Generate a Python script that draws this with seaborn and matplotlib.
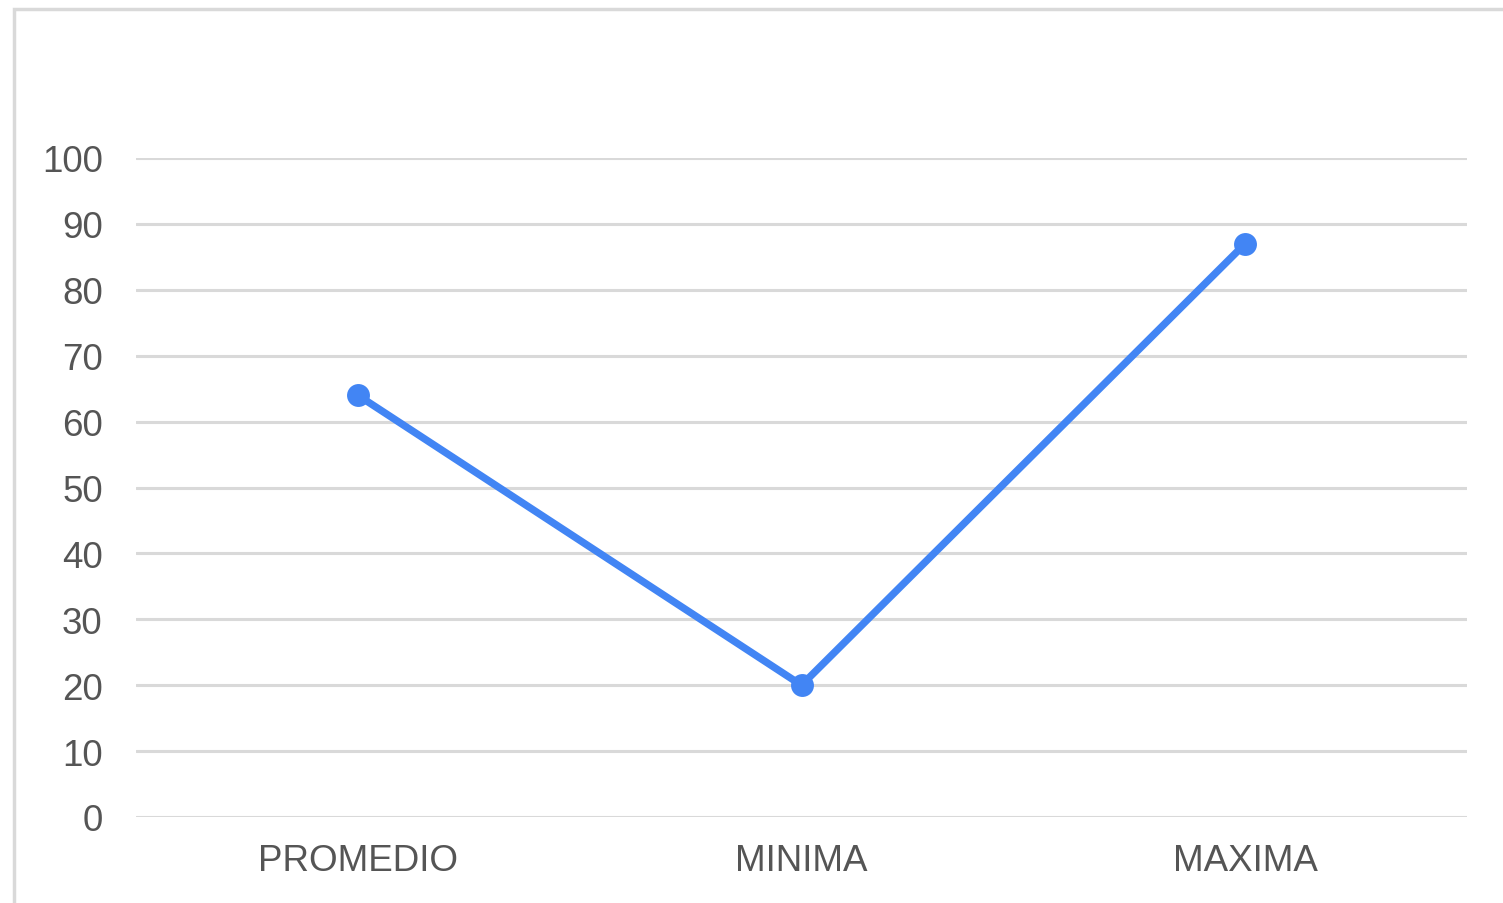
import matplotlib
matplotlib.use("Agg")
import matplotlib.pyplot as plt
import seaborn as sns
import pandas as pd
from matplotlib.patches import Rectangle

categories = ["PROMEDIO", "MINIMA", "MAXIMA"]
values = [64, 20, 87]
y_ticks = [0, 10, 20, 30, 40, 50, 60, 70, 80, 90, 100]

sns.set_theme(style="white")
plt.rcParams["font.family"] = ["Liberation Sans", "DejaVu Sans"]

df = pd.DataFrame({"categoria": categories, "valor": values})

fig = plt.figure(figsize=(15.03, 9.04), dpi=100)
fig.patch.set_facecolor("white")
ax = fig.add_axes([136 / 1503, (904 - 818) / 904, 1331 / 1503, 659 / 904])

# outer frame of the chart card
fig.patches.append(Rectangle((14 / 1503, -0.1), 1.2, (904 - 10) / 904 + 0.1,
                             transform=fig.transFigure, fill=False,
                             edgecolor="#d9d9d9", linewidth=2.5, zorder=0))

sns.lineplot(data=df, x="categoria", y="valor", ax=ax, color="#4285F4",
             linewidth=5.3, marker="o", markersize=16.5, markeredgewidth=0,
             sort=False, zorder=3)

ax.set_xlim(-0.5, len(categories) - 0.5)
ax.set_ylim(0, 100)
ax.set_yticks(y_ticks)
ax.set_xlabel("")
ax.set_ylabel("")
ax.grid(axis="y", color="#d9d9d9", linewidth=2.2)
ax.grid(axis="x", visible=False)
ax.set_axisbelow(True)
for s in ax.spines.values():
    s.set_visible(False)
ax.tick_params(axis="y", length=0, pad=24, labelsize=26.5, labelcolor="#555555")
ax.tick_params(axis="x", length=0, pad=19, labelsize=26.5, labelcolor="#555555")
ax.patch.set_alpha(0)

fig.savefig("out.png", dpi=100)
